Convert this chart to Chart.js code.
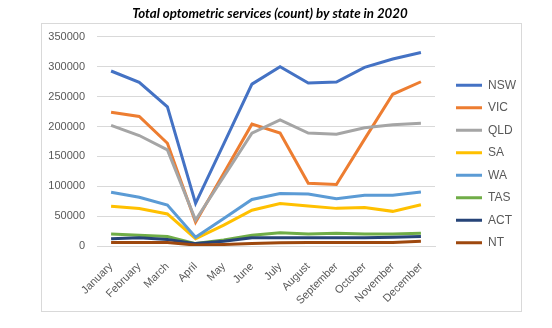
<!DOCTYPE html>
<html lang="en">
<head>
<meta charset="UTF-8">
<title>Total optometric services</title>
<script src="https://cdn.jsdelivr.net/npm/chart.js"></script>
<style>
    html, body { margin: 0; padding: 0; background: #fff; }
    #wrap { position: relative; width: 552px; height: 328px; }
    /* thin frame round the chart, like the spreadsheet chart object */
    #frame {
        position: absolute; left: 41px; top: 23px;
        width: 479px; height: 287px;
        border: 1px solid #d9d9d9;
    }
    #chart { position: absolute; left: 0; top: 0; }
</style>
</head>
<body>
<div id="wrap">
    <div id="frame"></div>
    <canvas id="chart" width="552" height="328"></canvas>
</div>
<script>
    const months = ['January', 'February', 'March', 'April', 'May', 'June', 'July',
        'August', 'September', 'October', 'November', 'December'];

    const nsw = [293000, 274000, 233000, 71500, 171000, 271000, 300000, 273000, 274500, 299000, 313000, 324000];
    const vic = [224000, 217000, 172000, 39700, 122000, 204000, 189000, 105000, 103000, 179000, 254000, 275000];
    const qld = [202000, 185000, 161000, 43500, 116000, 189000, 211000, 189000, 187000, 198000, 203000, 205500];
    const sa  = [66500, 62600, 53600, 12300, 35000, 60000, 71000, 67000, 63000, 64500, 58000, 69000];
    const wa  = [90000, 81500, 68700, 14600, 46000, 78000, 88000, 87000, 79000, 85000, 85000, 90500];
    const tas = [20000, 18000, 16000, 4000, 10000, 18000, 22000, 20000, 21500, 20000, 20000, 21500];
    const act = [12000, 14000, 11000, 4000, 8000, 14000, 14000, 14000, 14000, 14000, 14500, 16000];
    const nt  = [6000, 6000, 6000, 1500, 2500, 4000, 5500, 6000, 6000, 6000, 6000, 8000];

    const states = ['NSW', 'VIC', 'QLD', 'SA', 'WA', 'TAS', 'ACT', 'NT'];
    const series = [nsw, vic, qld, sa, wa, tas, act, nt];
    const colours = ['#4472C4', '#ED7D31', '#A5A5A5', '#FFC000', '#5B9BD5', '#70AD47', '#264478', '#9E480E'];

    const axisFont = { family: 'Liberation Sans', size: 11 };

    const datasets = states.map((name, i) => ({
        label: name,
        data: series[i],
        borderColor: colours[i],
        backgroundColor: colours[i],
        borderWidth: 3,
        pointRadius: 0,
        tension: 0,
        // later states sit on top of earlier ones
        order: states.length - i
    }));

    new Chart(document.getElementById('chart'), {
        type: 'line',
        data: { labels: months, datasets: datasets },
        options: {
            responsive: false,
            animation: false,
            layout: { padding: { left: 14, right: 26, top: 0, bottom: 0 } },
            plugins: {
                title: {
                    display: true,
                    text: 'Total optometric services (count) by state in 2020',
                    color: '#000',
                    font: { family: 'Lato', size: 13.3, weight: 'bold', style: 'italic', lineHeight: 1.2 },
                    padding: { top: 6, bottom: 15 }
                },
                legend: {
                    position: 'right',
                    labels: {
                        usePointStyle: true,
                        pointStyle: 'line',
                        pointStyleWidth: 26,
                        padding: 10.5,
                        color: '#595959',
                        font: { family: 'Liberation Sans', size: 12 },
                        sort: (a, b) => a.datasetIndex - b.datasetIndex
                    }
                },
                tooltip: { enabled: false }
            },
            scales: {
                x: {
                    offset: true,
                    grid: { display: false },
                    border: { color: '#d9d9d9' },
                    ticks: {
                        color: '#595959', font: axisFont,
                        minRotation: 45, maxRotation: 45, padding: 6
                    },
                    afterFit: s => { s.height = 82; }
                },
                y: {
                    min: 0,
                    max: 350000,
                    grid: { color: '#d9d9d9', drawTicks: false },
                    border: { display: false },
                    ticks: {
                        stepSize: 50000, color: '#595959', font: axisFont, padding: 12,
                        callback: v => String(v)
                    },
                    afterFit: s => { s.width = 83; }
                },
                // empty spacer between plot and legend
                gap: {
                    position: 'right',
                    display: true,
                    grid: { display: false },
                    border: { display: false },
                    ticks: { display: false },
                    afterFit: s => { s.width = 10.5; }
                }
            }
        }
    });
</script>
</body>
</html>
